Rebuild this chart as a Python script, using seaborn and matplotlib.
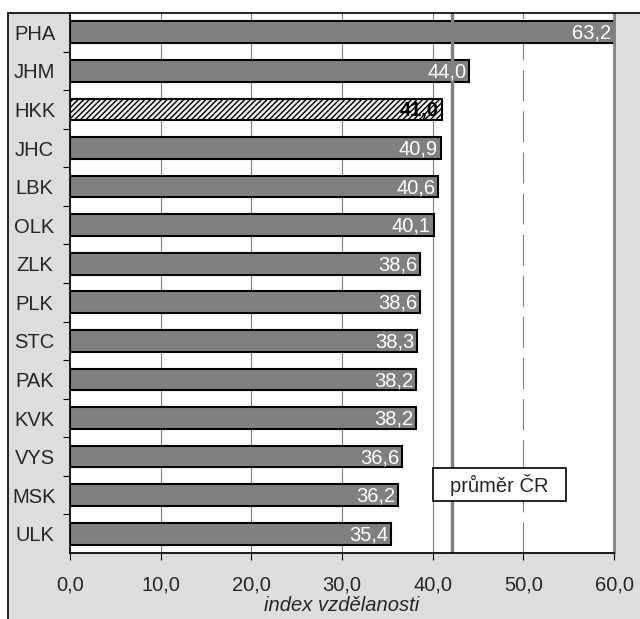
import matplotlib
matplotlib.use("Agg")
import matplotlib.pyplot as plt
from matplotlib.patches import Rectangle
import seaborn as sns
import pandas as pd

# data
regions = ["PHA", "JHM", "HKK", "JHC", "LBK", "OLK", "ZLK",
           "PLK", "STC", "PAK", "KVK", "VYS", "MSK", "ULK"]
index_values = [63.2, 44.0, 41.0, 40.9, 40.6, 40.1, 38.6,
                38.6, 38.3, 38.2, 38.2, 36.6, 36.2, 35.4]
highlight = "HKK"
cr_average = 42.1
x_ticks = [0, 10, 20, 30, 40, 50, 60]

df = pd.DataFrame({"kraj": regions, "index": index_values})

sns.set_theme(style="white")
plt.rcParams["font.family"] = ["Liberation Sans", "DejaVu Sans"]
FS = 14.5

fig = plt.figure(figsize=(6.4, 6.19), dpi=100)
fig.patch.set_facecolor("white")

# grey chart-area background with black left/top border
bg = Rectangle((8 / 640, 0), 1 - 8 / 640, 1 - 13 / 619, transform=fig.transFigure,
               facecolor="#dddddd", edgecolor="none", zorder=-10)
fig.patches.append(bg)
fig.add_artist(plt.Line2D([8 / 640, 8 / 640], [0, 1 - 13 / 619], transform=fig.transFigure,
                          color="black", lw=1.2, zorder=-5))
fig.add_artist(plt.Line2D([8 / 640, 1], [1 - 13 / 619, 1 - 13 / 619], transform=fig.transFigure,
                          color="black", lw=1.2, zorder=5))

ax = fig.add_axes([70 / 640, 1 - 553 / 619, (614 - 70) / 640, (553 - 13) / 619])
ax.set_zorder(1)
ax.set_facecolor("white")

sns.barplot(data=df, y="kraj", x="index", orient="h", color="#808080",
            edgecolor="black", linewidth=1.5, width=0.56, saturation=1, ax=ax, zorder=3)

for patch, name in zip(ax.patches, regions):
    if name == highlight:
        patch.set_facecolor("#eeeeee")
        patch.set_hatch("//////")
        try:
            patch.set_hatchcolor("#777777")
        except AttributeError:
            pass

ax.set_xlim(0, 60)
ax.set_ylim(len(regions) - 0.5, -0.5)

# gridlines
for t in x_ticks[1:5]:
    ax.axvline(t, color="#808080", lw=0.8, zorder=1)
ax.axvline(50, color="#808080", lw=0.8, dashes=(28, 9), zorder=1)

# average line
ax.axvline(cr_average, color="#808080", lw=2.5, zorder=4)

# value labels
for i, (name, v) in enumerate(zip(regions, index_values)):
    label = f"{v:.1f}".replace(".", ",")
    xpos = min(v, 60) - 0.3
    if name == highlight:
        ax.text(xpos, i + 0.03, label, ha="right", va="center", color="black",
                fontweight="bold", fontsize=FS, zorder=5)
    else:
        ax.text(xpos, i + 0.03, label, ha="right", va="center", color="white",
                fontsize=FS, zorder=5)

# annotation box
box_x, box_y, box_w, box_h = 40.0, 11.29, 14.7, 0.85
ax.add_patch(Rectangle((box_x, box_y), box_w, box_h, facecolor="white",
                       edgecolor="black", lw=1.2, zorder=6))
ax.text(box_x + box_w / 2, box_y + box_h / 2 + 0.03, "průměr ČR", ha="center", va="center",
        fontsize=FS, zorder=7)

ax.set_xticks(x_ticks)
ax.set_xticklabels([f"{t:.1f}".replace(".", ",") for t in x_ticks], fontsize=FS)
ax.set_yticks(range(len(regions)))
ax.set_yticklabels(regions, fontsize=FS, ha="center")
ax.set_yticks([i + 0.5 for i in range(len(regions) - 1)], minor=True)
ax.tick_params(axis="y", which="major", length=0, pad=25.5)
ax.tick_params(axis="y", which="minor", length=5, width=0.8, color="black", direction="out", left=True)
ax.tick_params(axis="x", length=5, width=0.8, color="black", direction="out", bottom=True, pad=11)

ax.set_xlabel("index vzdělanosti", fontstyle="italic", fontsize=FS, labelpad=1)
ax.set_ylabel("")

ax.spines["top"].set_visible(False)
ax.spines["left"].set_color("black")
ax.spines["bottom"].set_color("black")
ax.spines["right"].set_color("#808080")
ax.spines["right"].set_linewidth(2)
for s in ax.spines.values():
    s.set_zorder(8)

fig.savefig("out.png", dpi=100)
